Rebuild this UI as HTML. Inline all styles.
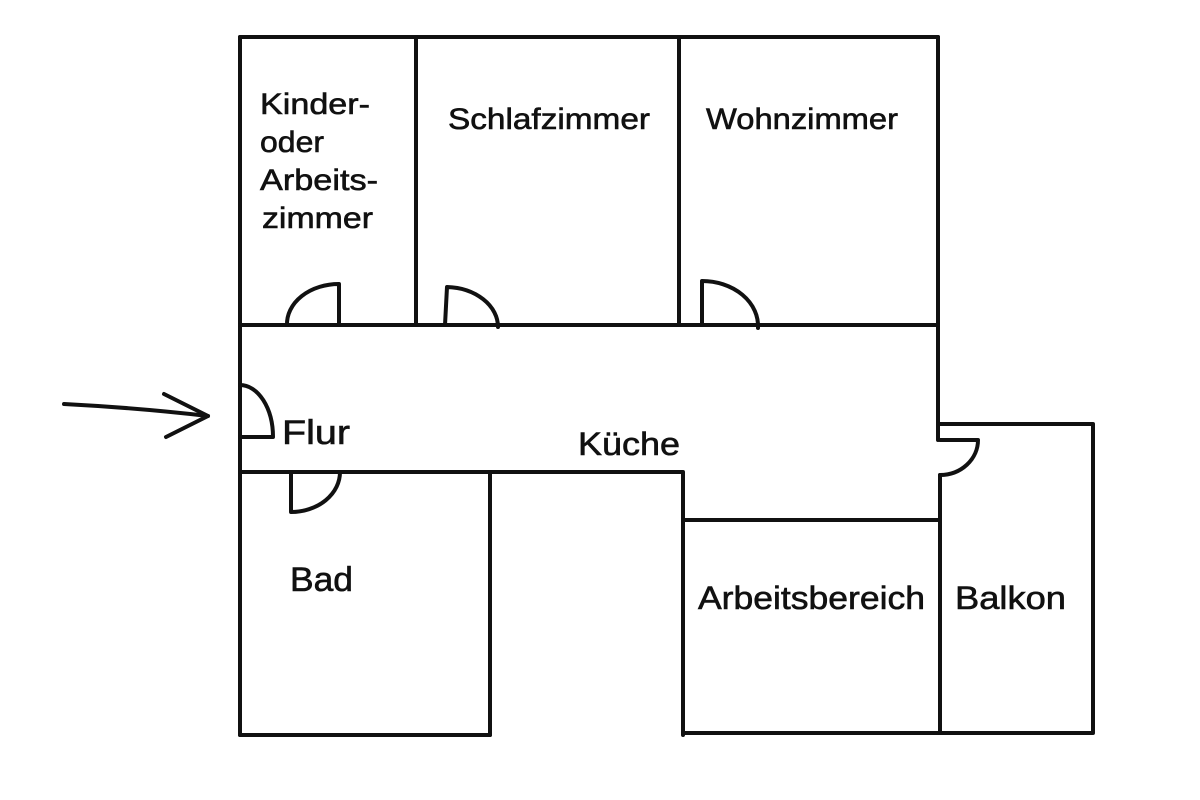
<!DOCTYPE html>
<html><head><meta charset="utf-8"><style>
html,body{margin:0;padding:0;background:#fff;width:1200px;height:800px;overflow:hidden}
text{font-family:"Liberation Sans",sans-serif;fill:#111;stroke:#111;stroke-width:0.6}
</style></head><body>
<svg width="1200" height="800" viewBox="0 0 1200 800" xmlns="http://www.w3.org/2000/svg">
<g fill="none" stroke="#111" stroke-width="4" stroke-linecap="round" stroke-linejoin="round">
<path d="M240 37 H938"/>
<path d="M240 37 V735"/>
<path d="M416 37 V325"/>
<path d="M679 37 V325"/>
<path d="M938 37 V440"/>
<path d="M940 475 V733"/>
<path d="M240 325 H938"/>
<path d="M240 472 H683 V735"/>
<path d="M683 520 H938"/>
<path d="M490 472 V735"/>
<path d="M240 735 H490"/>
<path d="M683 733 H1093 V424 H940"/>
<path d="M339 325 V284 A52 40 0 0 0 287 325"/>
<path d="M445 325 L447 287 A53 40 0 0 1 498 327"/>
<path d="M702 325 V281 A56 45 0 0 1 758 328"/>
<path d="M240 385 A33 52 0 0 1 273 437 H240"/>
<path d="M291 472 V512 A49 40 0 0 0 340 472"/>
<path d="M940 440 H978 A38 35 0 0 1 940 475"/>
<path d="M64 404 Q140 408 208 416"/>
<path d="M164 394 Q192 408 208 416 Q188 426 166 437"/>
</g>
<g font-size="30">
<text x="260" y="114" textLength="110" lengthAdjust="spacingAndGlyphs">Kinder-</text>
<text x="260" y="152" textLength="64" lengthAdjust="spacingAndGlyphs">oder</text>
<text x="260" y="190" textLength="118" lengthAdjust="spacingAndGlyphs">Arbeits-</text>
<text x="262" y="228" textLength="111" lengthAdjust="spacingAndGlyphs">zimmer</text>
<text x="448" y="129" textLength="202" lengthAdjust="spacingAndGlyphs">Schlafzimmer</text>
<text x="706" y="129" textLength="192" lengthAdjust="spacingAndGlyphs">Wohnzimmer</text>
<text x="282" y="444" font-size="34" textLength="68" lengthAdjust="spacingAndGlyphs">Flur</text>
<text x="578" y="455" font-size="32" textLength="102" lengthAdjust="spacingAndGlyphs">Küche</text>
<text x="290" y="591" font-size="34" textLength="63" lengthAdjust="spacingAndGlyphs">Bad</text>
<text x="698" y="609" font-size="32" textLength="227" lengthAdjust="spacingAndGlyphs">Arbeitsbereich</text>
<text x="955" y="609" font-size="32" textLength="111" lengthAdjust="spacingAndGlyphs">Balkon</text>
</g>
</svg>
</body></html>
